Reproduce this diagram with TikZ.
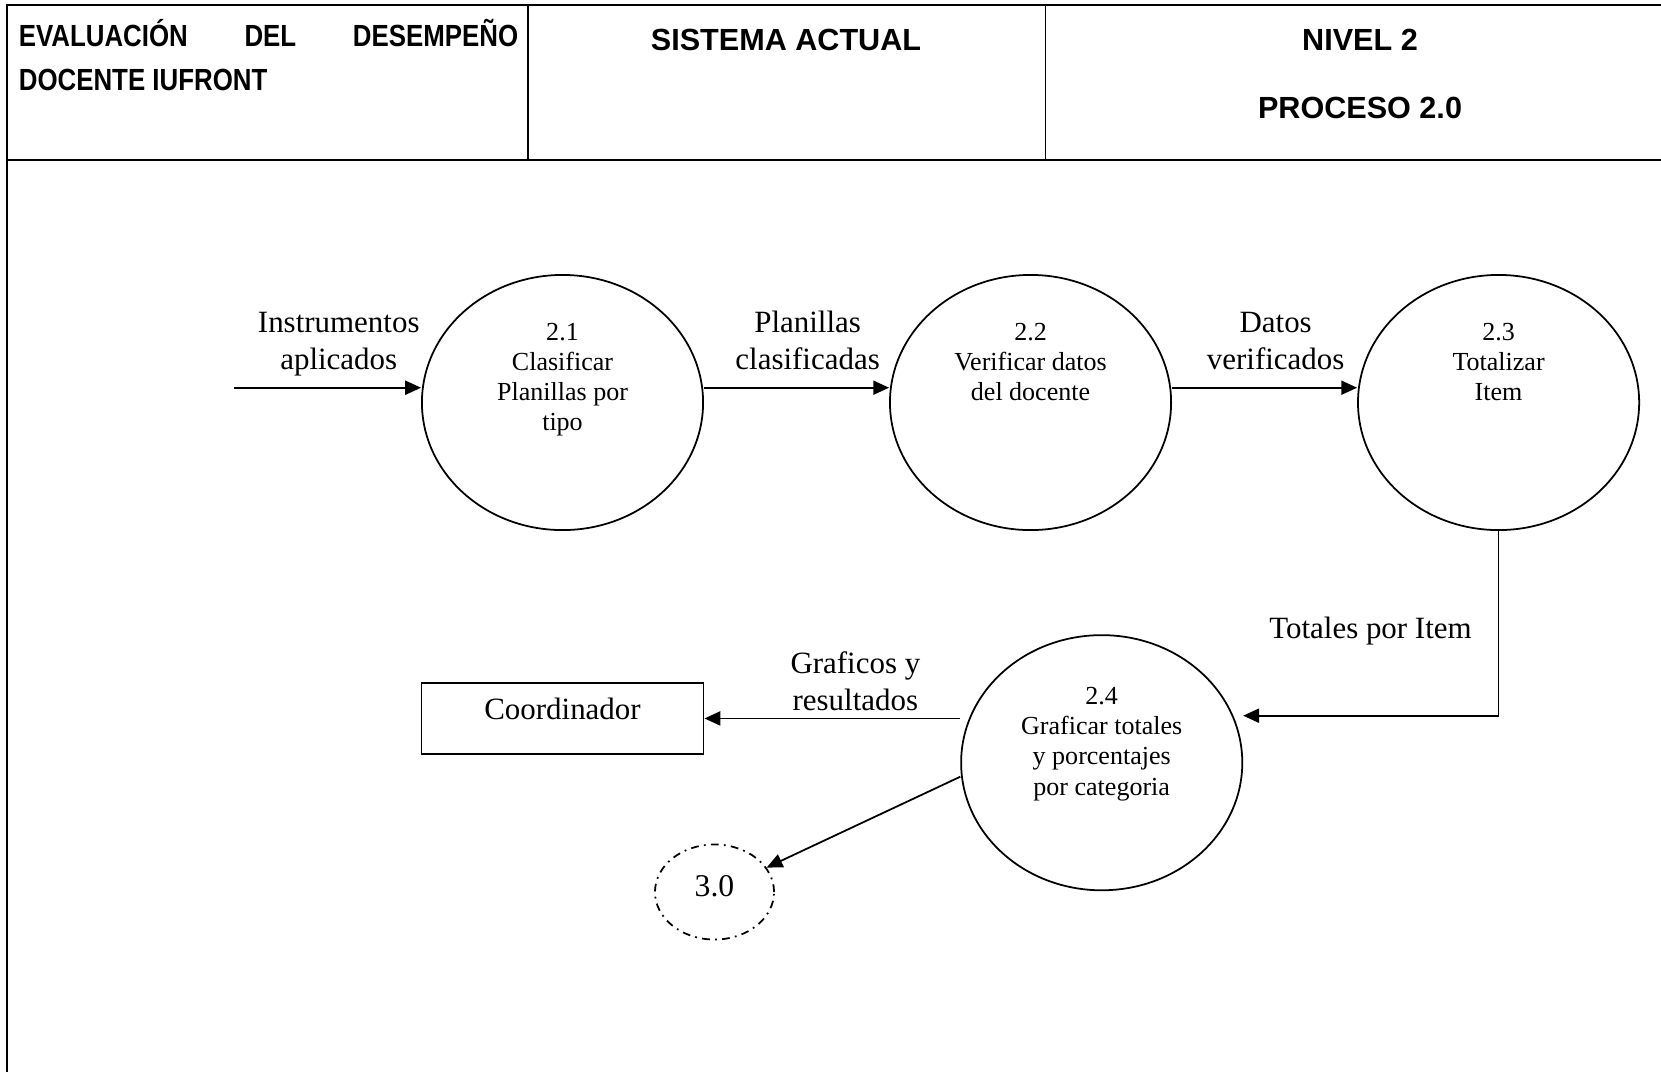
\documentclass[tikz,border=0pt]{standalone}
\usepackage{fontspec}
\setmainfont{Liberation Serif}
\setsansfont{Liberation Sans}
\usetikzlibrary{
    shapes.geometric,
    positioning,
    arrows.meta
}

\begin{document}
\begin{tikzpicture}[x=0.01cm,y=-0.01cm,>={Triangle[length=4.5pt,width=4pt]},
line width=0.5pt,
process node/.style={ellipse,draw,inner sep=0pt,minimum width=2.81cm,minimum height=2.55cm},
process text/.style={align=center,inner sep=0pt,font=\fontsize{7.4}{8.6}\selectfont},
flow label/.style={align=center,inner sep=0pt,font=\fontsize{8.8}{10.5}\selectfont},
entity node/.style={rectangle,draw,minimum width=2.82cm,minimum height=0.71cm,text depth=0.54em,font=\fontsize{8.8}{10.5}\selectfont},
connector node/.style={ellipse,draw,dash pattern=on 2.2pt off 1.5pt on 0.5pt off 1.5pt,inner sep=0pt,minimum width=1.19cm,minimum height=0.95cm,text depth=0.34em,font=\fontsize{9}{11}\selectfont},
header text/.style={inner sep=0pt,font=\fontsize{8.7}{10}\selectfont\sffamily\bfseries},
frame line/.style={line width=0.6pt}]

\useasboundingbox (0,0) rectangle (1661,1072);

%Header
\draw[frame line] (1661,5) -- (7,5) -- (7,1072);
\draw[frame line] (7,160) -- (1661,160);
\draw (527.7,5) -- (527.7,160);
\draw (1045.5,5) -- (1045.5,160);

\node[header text,anchor=base west] (head1) at (18,46) {\scalebox{0.845}[1]{\makebox[5.905cm][s]{EVALUACIÓN DEL DESEMPEÑO}}};
\node[header text,anchor=base west] (head2) at (18,90.5) {\scalebox{0.845}[1]{DOCENTE IUFRONT}};
\node[header text,anchor=base] (head3) at (786,50) {SISTEMA ACTUAL};
\node[header text,anchor=base] (head4) at (1360,50) {NIVEL 2};
\node[header text,anchor=base] (head5) at (1360,118) {PROCESO 2.0};

%Processes
\node[process node] (p1) at (562.5,402.5) {};
\node[process node] (p2) [right=1.85cm of p1] {};
\node[process node] (p3) [right=1.85cm of p2] {};
\node[process node] (p4) at (1101.7,762.7) {};

\node[process text,below=0.48cm of p1.north] (p1t) {2.1\\Clasificar\\Planillas por\\tipo};
\node[process text,below=0.48cm of p2.north] (p2t) {2.2\\Verificar datos\\del docente};
\node[process text,below=0.48cm of p3.north] (p3t) {2.3\\Totalizar\\Item};
\node[process text,below=0.52cm of p4.north] (p4t) {2.4\\Graficar totales\\y porcentajes\\por categoria};

%Entities
\node[entity node,below=1.51cm of p1] (coord) {Coordinador};
\node[connector node] (n30) at (714.5,892) {3.0};
\coordinate (src) at (234,387.7);

%Flows
\draw[->] (src) -- node[flow label,pos=0.56,above=3.1pt] {Instrumentos\\aplicados} (src -| p1.west);
\draw[->] (p1.east |- src) -- node[flow label,pos=0.56,above=4.9pt] {Planillas\\clasificadas} (p2.west |- src);
\draw[->] (p2.east |- src) -- node[flow label,pos=0.56,above=4.9pt] {Datos\\verificados} (p3.west |- src);
\draw[->] (p3.south) |- node[flow label,pos=0.27,left=0.26cm] {Totales por Item} ([yshift=0.47cm]p4.east);
\draw[->] (p4.west |- coord.east) -- node[flow label,pos=0.41,above=2.05pt] {Graficos y\\resultados} (coord.east);
\draw[->] ([yshift=-0.14cm]p4.west) -- (n30);
\end{tikzpicture}
\end{document}
